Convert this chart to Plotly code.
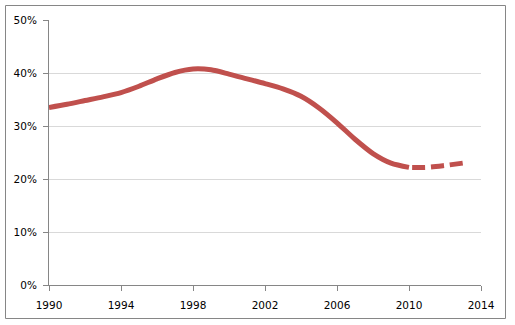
import plotly.graph_objects as go

years_actual = [1990, 1991, 1992, 1993, 1994, 1995, 1996, 1997, 1998, 1999, 2000,
                2001, 2002, 2003, 2004, 2005, 2006, 2007, 2008, 2009, 2010]
share_actual = [33.5, 34.1, 34.8, 35.5, 36.3, 37.5, 38.9, 40.1, 40.75, 40.6, 39.8,
                38.9, 38.0, 37.0, 35.6, 33.4, 30.6, 27.5, 24.8, 23.0, 22.2]
years_proj = [2010, 2011, 2012, 2013]
share_proj = [22.2, 22.2, 22.55, 23.0]

x_ticks = [1990, 1994, 1998, 2002, 2006, 2010, 2014]
y_ticks = [0, 10, 20, 30, 40, 50]
y_labels = ["0%", "10%", "20%", "30%", "40%", "50%"]

RED = "#C0504D"
fig = go.Figure()
fig.add_trace(go.Scatter(x=years_actual, y=share_actual, mode="lines",
                         line=dict(color=RED, width=5, shape="spline", smoothing=0.8),
                         showlegend=False, hoverinfo="skip"))
fig.add_trace(go.Scatter(x=years_proj, y=share_proj, mode="lines",
                         line=dict(color=RED, width=5, shape="spline", smoothing=0.8,
                                   dash="0px,3px,13px,3px"),
                         showlegend=False, hoverinfo="skip"))

L, R, T, B = 49, 34, 20, 40
W, H = 515, 325
pw, ph = W - L - R, H - T - B

def px_x(x):
    return (x - L) / pw

def px_y(y):
    return (H - B - y) / ph

fig.update_layout(
    width=W, height=H,
    margin=dict(l=L, r=R, t=T, b=B, pad=0, autoexpand=False),
    paper_bgcolor="white", plot_bgcolor="white",
    font=dict(family="DejaVu Sans", size=10.5, color="#000000"),
    xaxis=dict(range=[1990, 2014], tickvals=x_ticks, ticktext=[str(v) for v in x_ticks],
               showgrid=False, zeroline=False, showline=True, linecolor="#868686",
               linewidth=1, ticks="outside", ticklen=5, tickcolor="#868686",
               ticklabelstandoff=5, automargin=False),
    yaxis=dict(range=[0, 50], tickvals=y_ticks, ticktext=y_labels,
               showgrid=True, gridcolor="#D9D9D9", gridwidth=1, zeroline=False,
               showline=True, linecolor="#868686", linewidth=1, ticks="outside",
               ticklen=5, tickcolor="#868686", ticklabelstandoff=4, automargin=False),
    shapes=[dict(type="rect", xref="paper", yref="paper",
                 x0=px_x(5.5), x1=px_x(505.5), y0=px_y(318.5), y1=px_y(5.5),
                 line=dict(color="#868686", width=1), fillcolor="rgba(0,0,0,0)",
                 layer="below")],
)

fig.write_html("out.html", config={"displayModeBar": False},
               post_script="document.body.style.margin='0';")
